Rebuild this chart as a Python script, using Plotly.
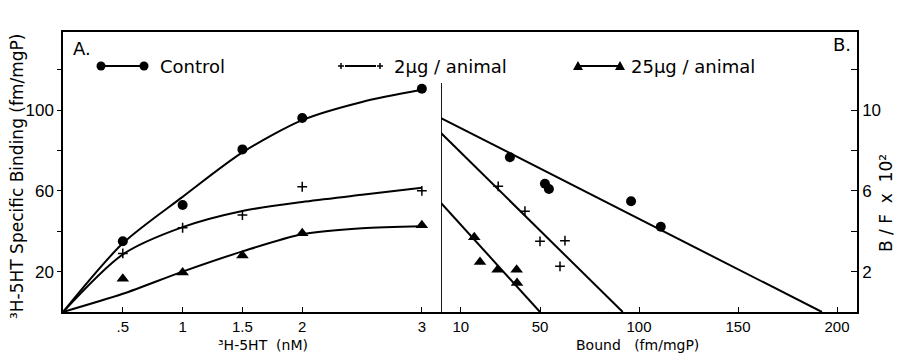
import plotly.graph_objects as go

# ---------------- data ----------------
# Panel A: saturation binding
conc_nM = [0.5, 1, 1.5, 2, 3]
ctrl_bind = [35, 53, 80.5, 96, 110.5]
low_bind = [29, 41.7, 48, 62, 60]
high_bind = [16.5, 19.5, 28, 39, 43]

# hand-drawn fitted curves
fit_conc = [0, 0.5, 1, 1.5, 2, 2.5, 3]
ctrl_fit = [0, 34, 57, 79, 95, 104, 110]
low_fit = [0, 28.5, 42, 50, 54.5, 58, 61.5]
high_fit = [0, 9, 20, 30, 38.5, 41.5, 42.5]

# Panel B: Scatchard plot
ctrl_bound = [34.8, 52.5, 54.5, 96, 111]
ctrl_bf = [7.66, 6.35, 6.09, 5.48, 4.22]
low_bound = [28.9, 42.4, 50, 62.6, 60.1]
low_bf = [6.22, 4.99, 3.5, 3.53, 2.26]
high_bound = [16.8, 19.7, 28.6, 38.2, 38.4]
high_bf = [3.7, 2.48, 2.09, 2.09, 1.44]

# Scatchard fit lines (intercepts)
ctrl_line_x = [0, 192.4]
ctrl_line_y = [9.6, 0]
low_line_x = [0, 91.8]
low_line_y = [8.86, 0]
high_line_x = [0, 50]
high_line_y = [5.4, 0]

xA_ticks = [0.5, 1, 1.5, 2, 3]
xA_labels = [".5", "1", "1.5", "2", "3"]
yA_ticks = [20, 40, 60, 80, 100, 120]
yA_labels = ["20", "", "60", "", "100", ""]
xB_ticks = [10, 50, 100, 150, 200]
xB_labels = ["10", "50", "100", "150", "200"]
yB_ticks = [2, 4, 6, 8, 10, 12]
yB_labels = ["2", "", "6", "", "10", ""]

legend_names = ["Control", "2\u00b5g / animal", "25\u00b5g / animal"]

# ---------------- figure ----------------
W, H = 899, 353
L, R, T, B = 63, 42, 32, 41
PW, PH = W - L - R, H - T - B
split = (441 - L) / PW
ppu = 2.02  # pixels per unit on the left axis

def px(xp):
    return (xp - L) / PW

def py(yp):
    return (H - B - yp) / PH

fig = go.Figure()
blk = "black"
lw = 2

# Panel A curves and points
for fy in [ctrl_fit, low_fit, high_fit]:
    fig.add_trace(go.Scatter(x=fit_conc, y=fy, mode="lines", line=dict(color=blk, width=lw, shape="spline", smoothing=0.8),
                             xaxis="x", yaxis="y", showlegend=False, hoverinfo="skip"))
fig.add_trace(go.Scatter(x=conc_nM, y=ctrl_bind, mode="markers", marker=dict(symbol="circle", size=10, color=blk),
                         xaxis="x", yaxis="y", showlegend=False))
fig.add_trace(go.Scatter(x=conc_nM, y=low_bind, mode="markers",
                         marker=dict(symbol="cross-thin", size=7, color=blk, line=dict(color=blk, width=1.5)),
                         xaxis="x", yaxis="y", showlegend=False))
fig.add_trace(go.Scatter(x=conc_nM, y=high_bind, mode="markers", marker=dict(symbol="triangle-up", size=11, color=blk),
                         xaxis="x", yaxis="y", showlegend=False))

# Panel B lines and points
for lx, ly in [(ctrl_line_x, ctrl_line_y), (low_line_x, low_line_y), (high_line_x, high_line_y)]:
    fig.add_trace(go.Scatter(x=lx, y=ly, mode="lines", line=dict(color=blk, width=lw),
                             xaxis="x2", yaxis="y2", showlegend=False, hoverinfo="skip"))
fig.add_trace(go.Scatter(x=ctrl_bound, y=ctrl_bf, mode="markers", marker=dict(symbol="circle", size=10, color=blk),
                         xaxis="x2", yaxis="y2", showlegend=False))
fig.add_trace(go.Scatter(x=low_bound, y=low_bf, mode="markers",
                         marker=dict(symbol="cross-thin", size=7, color=blk, line=dict(color=blk, width=1.5)),
                         xaxis="x2", yaxis="y2", showlegend=False))
fig.add_trace(go.Scatter(x=high_bound, y=high_bf, mode="markers", marker=dict(symbol="triangle-up", size=11, color=blk),
                         xaxis="x2", yaxis="y2", showlegend=False))

ytickfont = dict(family="Liberation Sans, Arial, sans-serif", size=17, color=blk)
xtickfont = dict(family="Liberation Sans, Arial, sans-serif", size=15, color=blk)
axcommon = dict(showgrid=False, zeroline=False, showline=True, linecolor=blk, linewidth=1.5,
                tickcolor=blk, tickwidth=1.3, automargin=False)

yA_max = PH / ppu
fig.update_layout(
    template="none",
    width=W, height=H,
    margin=dict(l=L, r=R, t=T, b=B, pad=0, autoexpand=False),
    paper_bgcolor="white", plot_bgcolor="white",
    xaxis=dict(domain=[0, split], range=[0, 3.16], tickvals=xA_ticks, ticktext=xA_labels,
               ticks="inside", ticklen=5, mirror=True, anchor="y", tickfont=xtickfont, **axcommon),
    yaxis=dict(domain=[0, 1], range=[0, yA_max], tickvals=yA_ticks, ticktext=yA_labels,
               ticks="outside", ticklen=4, anchor="x", tickfont=ytickfont, **axcommon),
    xaxis2=dict(domain=[split, 1], range=[0, 210.1], tickvals=xB_ticks, ticktext=xB_labels,
                ticks="inside", ticklen=5, mirror=True, anchor="y2", tickfont=xtickfont, **axcommon),
    yaxis2=dict(domain=[0, 1], range=[0, yA_max / 10], tickvals=yB_ticks, ticktext=yB_labels,
                ticks="inside", ticklen=6, side="right", anchor="x2", tickfont=ytickfont, **axcommon),
    showlegend=False,
)

shapes = []
# divider between panels (left edge of panel B, starting below legend)
shapes.append(dict(type="line", xref="x2", yref="paper", x0=0, x1=0, y0=0, y1=py(83),
                   line=dict(color=blk, width=1.8)))

# legend keys
ly = py(66)
key_spans = [(101, 144), (341, 380), (578, 620)]
for i, (a, b) in enumerate(key_spans):
    if i == 1:
        a, b = a + 4, b - 4
    shapes.append(dict(type="line", xref="paper", yref="paper", x0=px(a), x1=px(b), y0=ly, y1=ly,
                       line=dict(color=blk, width=2)))
# control circles
for cx in key_spans[0]:
    shapes.append(dict(type="circle", xref="paper", yref="paper", xsizemode="pixel", ysizemode="pixel",
                       xanchor=px(cx), yanchor=ly, x0=-4.5, x1=4.5, y0=-4.5, y1=4.5,
                       fillcolor=blk, line=dict(color=blk, width=0)))
# plus signs
for cx in key_spans[1]:
    for (x0, x1, y0, y1) in [(-3, 3, 0, 0), (0, 0, -3, 3)]:
        shapes.append(dict(type="line", xref="paper", yref="paper", xsizemode="pixel", ysizemode="pixel",
                           xanchor=px(cx), yanchor=ly, x0=x0, x1=x1, y0=y0, y1=y1,
                           line=dict(color=blk, width=1.5)))
# triangles
for cx in key_spans[2]:
    shapes.append(dict(type="path", xref="paper", yref="paper", xsizemode="pixel", ysizemode="pixel",
                       xanchor=px(cx), yanchor=ly, path="M-5,-4 L5,-4 L0,5 Z",
                       fillcolor=blk, line=dict(color=blk, width=0)))
fig.update_layout(shapes=shapes)

legfont = dict(family="DejaVu Sans, sans-serif", size=18, color=blk)
ann = []
ann.append(dict(text=legend_names[0], x=px(158), y=ly, xref="paper", yref="paper", showarrow=False,
                font=legfont, xanchor="left", yanchor="middle"))
ann.append(dict(text=legend_names[1], x=px(392), y=ly, xref="paper", yref="paper", showarrow=False,
                font=legfont, xanchor="left", yanchor="middle"))
ann.append(dict(text=legend_names[2], x=px(629), y=ly, xref="paper", yref="paper", showarrow=False,
                font=legfont, xanchor="left", yanchor="middle"))
ann.append(dict(text="A.", x=px(71), y=py(48), xref="paper", yref="paper", showarrow=False,
                font=legfont, xanchor="left", yanchor="middle"))
ann.append(dict(text="B.", x=px(853), y=py(45), xref="paper", yref="paper", showarrow=False,
                font=legfont, xanchor="right", yanchor="middle"))
titlefont = dict(family="DejaVu Sans, sans-serif", size=14, color=blk)
ann.append(dict(text="\u00b3H-5HT  (nM)", x=px(263), y=py(345), xref="paper", yref="paper", showarrow=False,
                font=titlefont, xanchor="center", yanchor="middle"))
ann.append(dict(text="Bound   (fm/mgP)", x=px(637), y=py(345), xref="paper", yref="paper", showarrow=False,
                font=titlefont, xanchor="center", yanchor="middle"))
ann.append(dict(text="\u00b3H-5HT Specific Binding (fm/mgP)", x=px(17), y=py(177), xref="paper", yref="paper",
                showarrow=False, textangle=-90, font=dict(family="DejaVu Sans, sans-serif", size=17, color=blk),
                xanchor="center", yanchor="middle"))
ann.append(dict(text="B / F  x  10\u00b2", x=px(886), y=py(203), xref="paper", yref="paper",
                showarrow=False, textangle=-90, font=dict(family="DejaVu Sans, sans-serif", size=17, color=blk),
                xanchor="center", yanchor="middle"))
fig.update_layout(annotations=ann)

fig.write_html("out.html", config={"displayModeBar": False},
               post_script="document.body.style.margin='0';document.body.style.overflow='hidden';")
